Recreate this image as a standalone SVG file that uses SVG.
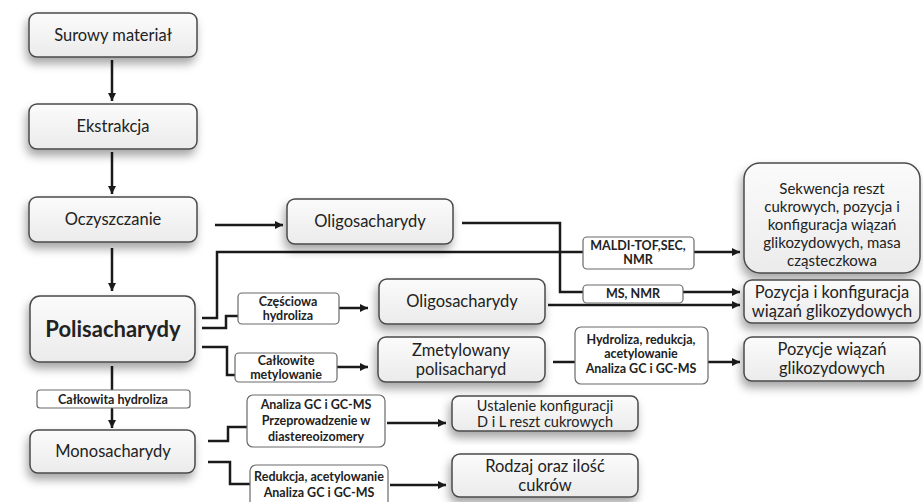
<svg xmlns="http://www.w3.org/2000/svg" width="923" height="502" viewBox="0 0 923 502">
<defs>
<linearGradient id="g" x1="0" y1="0" x2="0" y2="1"><stop offset="0" stop-color="#fbfbfb"/><stop offset="1" stop-color="#ebebeb"/></linearGradient>
<filter id="sh" x="-20%" y="-30%" width="140%" height="170%"><feDropShadow dx="-2" dy="6" stdDeviation="5" flood-color="#000" flood-opacity="0.35"/></filter>
<marker id="ah" viewBox="0 0 10 10" refX="10" refY="5" markerWidth="9" markerHeight="8" markerUnits="userSpaceOnUse" orient="auto"><path d="M0,0 L10,5 L0,10 z" fill="#1a1a1a"/></marker>
<style>
.b{fill:url(#g);stroke:#4a4a4a;stroke-width:1.5;filter:url(#sh)}
.s{fill:#fff;stroke:#6a6a6a;stroke-width:1.2}
.t{font-family:Lato,"Open Sans",sans-serif;font-size:16.5px;fill:#222;text-anchor:middle}
.k{font-family:Lato,"Open Sans",sans-serif;font-size:15px;fill:#222;text-anchor:middle}
.m{font-family:Lato,"Open Sans",sans-serif;font-size:12.5px;fill:#222;text-anchor:middle;font-weight:bold}
.c{fill:none;stroke:#1a1a1a;stroke-width:2.5}
.a{marker-end:url(#ah)}
</style>
</defs>
<rect width="923" height="502" fill="#fff"/>
<g id="connectors">
<path class="c a" d="M112,60 V101"/>
<path class="c a" d="M112,152 V194"/>
<path class="c a" d="M112,248 V291"/>
<path class="c a" d="M215,225 H283"/>
<path class="c" d="M462,223 H560 V292 H583"/>
<path class="c a" d="M683,292 H740"/>
<path class="c" d="M202,318 H217 V252 H583"/>
<path class="c a" d="M694,252 H740"/>
<path class="c" d="M202,328 H226 V316 H238"/>
<path class="c a" d="M339,308 H368"/>
<path class="c a" d="M548,305 H740"/>
<path class="c" d="M202,347 H227 V375 H235"/>
<path class="c a" d="M337,367 H368"/>
<path class="c" d="M553,362 H575"/>
<path class="c a" d="M708,362 H740"/>
<path class="c" d="M112,366 V390"/>
<path class="c a" d="M112,408 V428"/>
<path class="c" d="M208,441 H228 V427 H247"/>
<path class="c a" d="M387,423 H446"/>
<path class="c" d="M208,462 H230 V484 H250"/>
<path class="c a" d="M390,485 H446"/>
</g>
<g id="surowy"><rect class="b" x="29" y="13" width="168" height="44" rx="8"/><text class="t" x="113" y="41">Surowy materiał</text></g>
<g id="ekstrakcja"><rect class="b" x="29" y="104" width="168" height="45" rx="8"/><text class="t" x="113" y="132">Ekstrakcja</text></g>
<g id="oczyszczanie"><rect class="b" x="29" y="197" width="168" height="45" rx="8"/><text class="t" x="113" y="225">Oczyszczanie</text></g>
<g id="polisacharydy"><rect class="b" x="30" y="296" width="165" height="66" rx="10"/><text class="t" x="113" y="337" style="font-size:22px;font-weight:bold">Polisacharydy</text></g>
<g id="calkowita-hydroliza"><rect class="s" x="37" y="390" width="153" height="18" rx="3"/><text class="m" x="113" y="404">Całkowita hydroliza</text></g>
<g id="monosacharydy"><rect class="b" x="30" y="430" width="165" height="43" rx="8"/><text class="t" x="113" y="457">Monosacharydy</text></g>
<g id="oligo1"><rect class="b" x="287" y="199" width="166" height="45" rx="8"/><text class="t" x="370" y="227">Oligosacharydy</text></g>
<g id="czesciowa"><rect class="s" x="238" y="293" width="101" height="31" rx="4"/><text class="m" x="288" y="306">Częściowa</text><text class="m" x="288" y="320">hydroliza</text></g>
<g id="oligo2"><rect class="b" x="379" y="279" width="166" height="45" rx="8"/><text class="t" x="462" y="307">Oligosacharydy</text></g>
<g id="calkowite-metylowanie"><rect class="s" x="235" y="353" width="102" height="29" rx="4"/><text class="m" x="286" y="365">Całkowite</text><text class="m" x="286" y="379">metylowanie</text></g>
<g id="zmetylowany"><rect class="b" x="378" y="337" width="167" height="45" rx="8"/><text class="t" x="461" y="356">Zmetylowany</text><text class="t" x="461" y="375">polisacharyd</text></g>
<g id="maldi"><rect class="s" x="583" y="237" width="111" height="32" rx="4"/><text class="m" x="638" y="250">MALDI-TOF,SEC,</text><text class="m" x="638" y="264">NMR</text></g>
<g id="msnmr"><rect class="s" x="583" y="285" width="100" height="18" rx="4"/><text class="m" x="633" y="298">MS, NMR</text></g>
<g id="hydroliza-box"><rect class="s" x="575" y="327" width="133" height="57" rx="6"/><text class="m" x="641" y="344">Hydroliza, redukcja,</text><text class="m" x="641" y="358">acetylowanie</text><text class="m" x="641" y="373">Analiza GC i GC-MS</text></g>
<g id="sekwencja"><rect class="b" x="744" y="163" width="176" height="110" rx="16"/><text class="k" x="832" y="194">Sekwencja reszt</text><text class="k" x="832" y="212">cukrowych, pozycja i</text><text class="k" x="832" y="230">konfiguracja wiązań</text><text class="k" x="832" y="248">glikozydowych, masa</text><text class="k" x="832" y="266">cząsteczkowa</text></g>
<g id="pozycja-konf"><rect class="b" x="744" y="280" width="176" height="43" rx="8"/><text class="t" x="832" y="298">Pozycja i konfiguracja</text><text class="t" x="832" y="317">wiązań glikozydowych</text></g>
<g id="pozycje-wiazan"><rect class="b" x="744" y="337" width="176" height="44" rx="8"/><text class="t" x="832" y="355">Pozycje wiązań</text><text class="t" x="832" y="374">glikozydowych</text></g>
<g id="analiza"><rect class="s" x="247" y="395" width="138" height="52" rx="6"/><text class="m" x="316" y="409">Analiza GC i GC-MS</text><text class="m" x="316" y="425">Przeprowadzenie w</text><text class="m" x="316" y="441">diastereoizomery</text></g>
<g id="ustalenie"><rect class="b" x="452" y="396" width="186" height="35" rx="7"/><text class="k" x="545" y="411" style="font-size:14.5px">Ustalenie konfiguracji</text><text class="k" x="545" y="427" style="font-size:14.5px">D i L reszt cukrowych</text></g>
<g id="redukcja"><rect class="s" x="250" y="465" width="138" height="42" rx="6"/><text class="m" x="319" y="481">Redukcja, acetylowanie</text><text class="m" x="319" y="497">Analiza GC i GC-MS</text></g>
<g id="rodzaj"><rect class="b" x="452" y="454" width="186" height="43" rx="8"/><text class="t" x="545" y="472">Rodzaj oraz ilość</text><text class="t" x="545" y="491">cukrów</text></g>
</svg>
